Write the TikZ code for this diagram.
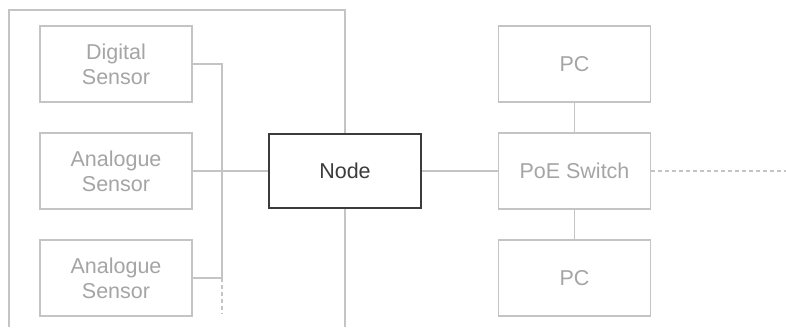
\documentclass[tikz,border=0pt]{standalone}
\usepackage{fontspec}
\setmainfont{Liberation Sans}
\usepackage{xcolor}
\definecolor{ColLine}{RGB}{196,196,196}
\definecolor{ColText}{RGB}{165,165,165}
\definecolor{ColDark}{RGB}{60,60,60}
\usepackage{tikz}
\tikzstyle{Box}=[rectangle,draw=ColLine,fill=white,line width=1.2pt,text=ColText,
minimum width=152pt,minimum height=76pt,inner sep=0pt,align=center,
font=\fontsize{21.5}{25}\selectfont]
\tikzstyle{MainBox}=[Box,draw=ColDark,line width=2.8pt,text=ColDark,
minimum width=152pt,minimum height=74pt]
\tikzstyle{Edge}=[draw=ColLine,line width=1.1pt]
\tikzstyle{Link}=[Edge,dash pattern=on 4pt off 3pt]

\begin{document}
\begin{tikzpicture}[x=1pt,y=-1pt]
        \useasboundingbox[fill=white](0,0)rectangle(786,327);
        \draw[Edge](9,327)--(9,10)--(345,10)--(345,327);
        \node[Box](DS)at(116,64){Digital\\Sensor};
        \node[Box](AS1)at(116,171){Analogue\\Sensor};
        \node[Box](AS2)at(116,278){Analogue\\Sensor};
        \node[MainBox](N)at(345,171){Node};
        \node[Box](SW)at(574.5,171){PoE Switch};
        \node[Box](PC1)at(574.5,64){PC};
        \node[Box](PC2)at(574.5,278){PC};
        \coordinate(b1)at(222,64);
        \coordinate(b3)at(222,278);
        \coordinate(bE)at(222,314);
        \coordinate(out)at(786,171);
        \draw[Edge](DS)--(b1)--(b3)--(AS2);
        \draw[Link](b3)--(bE);
        \draw[Edge](AS1)--(N);
        \draw[Edge](N)--(SW);
        \draw[Edge](PC1)--(SW);
        \draw[Edge](SW)--(PC2);
        \draw[Link](SW)--(out);
    \end{tikzpicture}
\end{document}
